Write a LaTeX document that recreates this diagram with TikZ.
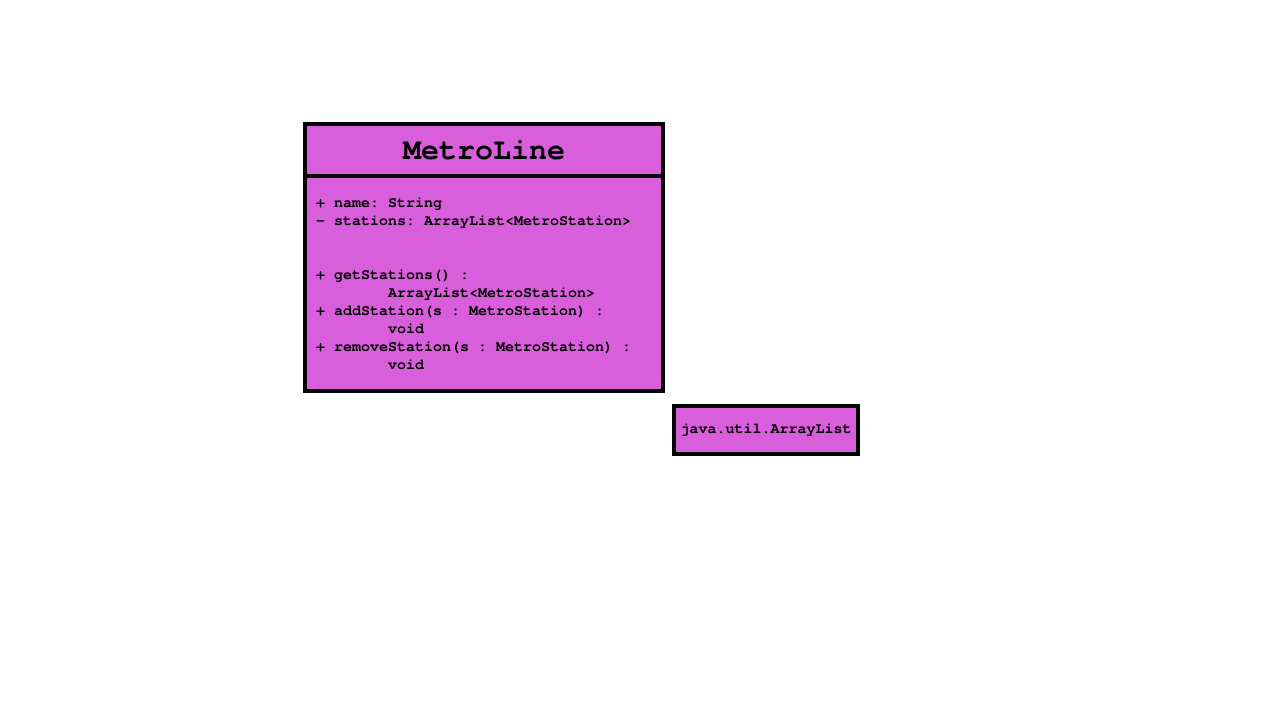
\documentclass[tikz,border=0pt]{standalone}
\usepackage{fontspec}
\setmonofont{texgyrecursor-regular.otf}[BoldFont=texgyrecursor-bold.otf]
\usetikzlibrary{positioning}
\definecolor{classfill}{RGB}{217,94,219}
\newcommand{\ind}{\hspace*{4.8em}}
\newcommand{\monosp}{\spaceskip=.6em\relax\xspaceskip=.6em\relax}

\begin{document}
\begin{tikzpicture}[x=1pt,y=1pt,node distance=0pt,
    classbox/.style={draw,line width=4pt,fill=classfill,rectangle,inner sep=0pt,outer sep=0pt},
    small/.style={font=\ttfamily\bfseries\fontsize{15}{18}\selectfont,execute at begin node=\monosp}]
    \useasboundingbox (0,0) rectangle (1280,720);
    \node[classbox,minimum width=358pt,minimum height=52pt,
          font=\ttfamily\bfseries\fontsize{30}{36}\selectfont] (title) at (484,570) {MetroLine};
    \node[classbox,small,below=of title,minimum width=358pt,minimum height=215pt,
          text width=336pt,align=left] (members)
          {+ name: String\\
           - stations: ArrayList<MetroStation>\\
           ~\\
           ~\\
           + getStations() :\\
           \ind ArrayList<MetroStation>\\
           + addStation(s : MetroStation) :\\
           \ind void\\
           + removeStation(s : MetroStation) :\\
           \ind void};
    \node[classbox,small,minimum width=184pt,minimum height=48pt,
          below right=15pt and 11pt of members.south east] (arraylist) {java.util.ArrayList};
\end{tikzpicture}
\end{document}
